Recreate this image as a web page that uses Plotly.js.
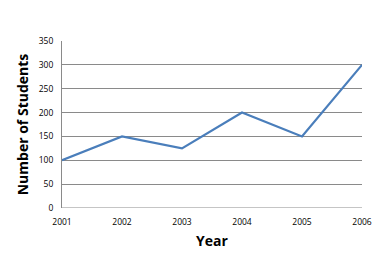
<!DOCTYPE html>
<html><head><meta charset="utf-8">
<script src="https://cdn.plot.ly/plotly-3.0.1.min.js"></script>
<style>html,body{margin:0;padding:0;background:#fff;}#chart{width:382px;height:263px;}</style>
</head><body><div id="chart"></div>
<script>
const years = ['2001','2002','2003','2004','2005','2006'];
const students = [100, 150, 125, 200, 150, 300];
const yTicks = [0, 50, 100, 150, 200, 250, 300, 350];

Plotly.newPlot('chart', [{
  x: years, y: students, type: 'scatter', mode: 'lines',
  line: {color: '#4a7ebb', width: 2.25}, hoverinfo: 'none'
}], {
  width: 382, height: 263,
  margin: {l: 62, r: 20, t: 41, b: 55},
  paper_bgcolor: '#fff', plot_bgcolor: '#fff',
  showlegend: false,
  font: {family: 'Open Sans, Liberation Sans, sans-serif', size: 8.5, color: '#000'},
  xaxis: {
    type: 'category', range: [0, 5], showgrid: false, zeroline: false,
    showline: false, ticks: 'outside', ticklen: 6, tickcolor: 'rgba(0,0,0,0)', tickfont: {size: 8.5},
    title: {text: 'Year', font: {size: 14, family: 'Open Sans, sans-serif', weight: 'bold'}, standoff: 9}
  },
  yaxis: {
    range: [0, 350], tickvals: yTicks, showgrid: true, gridcolor: '#8a8a8a', gridwidth: 1,
    zeroline: false, showline: true, linecolor: '#8a8a8a',
    ticks: 'outside', ticklen: 6, tickcolor: 'rgba(0,0,0,0)', tickfont: {size: 8.5},
    title: {text: 'Number of Students', font: {size: 14, family: 'Open Sans, sans-serif', weight: 'bold'}, standoff: 6}
  },
  shapes: [{type: 'line', xref: 'paper', yref: 'y', x0: 0, x1: 1, y0: 0, y1: 0, line: {color: '#8a8a8a', width: 1}, layer: 'below'}]
}, {staticPlot: true});
</script></body></html>
